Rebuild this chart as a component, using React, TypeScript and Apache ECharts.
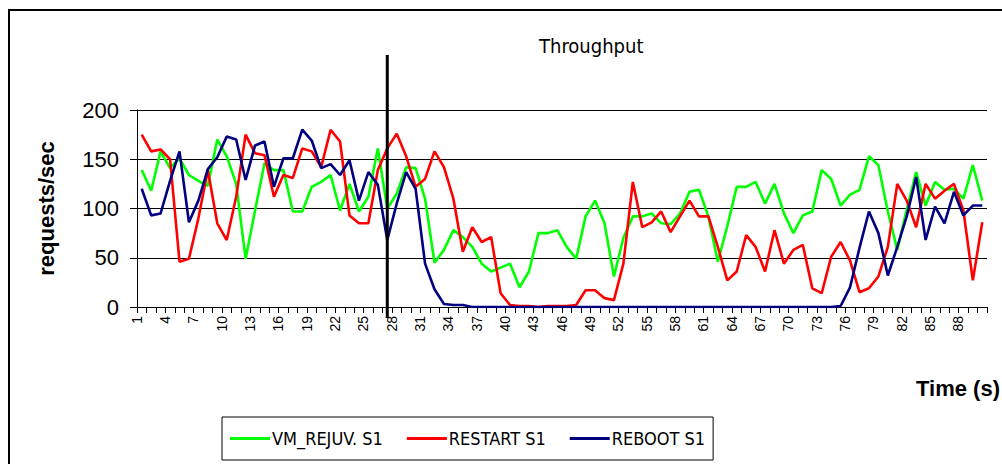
import React, { useEffect, useRef } from "react";
import * as echarts from "echarts";

const timeSeconds: string[] = Array.from({ length: 90 }, (_, i) => String(i + 1));
const yTicks = [0, 50, 100, 150, 200];

const vmRejuv = [
  139, 118, 158, 141, 151, 134, 128, 123, 170, 153,
  125, 49, 98, 146, 139, 139, 97, 97, 122, 127,
  134, 98, 125, 97, 112, 161, 100, 115, 142, 141,
  110, 45, 58, 78, 71, 61, 44, 36, 40, 44,
  20, 36, 75, 75, 78, 61, 49, 92, 108, 85,
  31, 70, 92, 92, 95, 85, 84, 95, 117, 119,
  92, 46, 82, 122, 122, 127, 105, 125, 95, 75,
  93, 97, 139, 130, 103, 114, 119, 153, 144, 97,
  58, 99, 137, 103, 127, 119, 120, 110, 144, 108,
];

const restart = [
  175, 158, 160, 150, 46, 49, 90, 139, 85, 68,
  112, 175, 156, 154, 112, 134, 131, 161, 158, 142,
  180, 168, 93, 85, 85, 139, 161, 176, 153, 122,
  130, 158, 142, 110, 56, 81, 66, 71, 14, 2,
  1, 1, 0, 1, 1, 1, 2, 17, 17, 9,
  7, 44, 127, 81, 86, 97, 76, 92, 108, 92,
  92, 61, 27, 36, 73, 61, 36, 78, 44, 58,
  63, 19, 14, 51, 66, 47, 15, 19, 31, 61,
  125, 108, 81, 125, 110, 118, 125, 98, 27, 86,
];

const reboot = [
  120, 93, 95, 128, 158, 86, 108, 140, 152, 173,
  170, 129, 164, 168, 122, 151, 151, 180, 169, 141,
  145, 134, 149, 108, 137, 124, 68, 105, 137, 120,
  44, 18, 3, 2, 2, 0, 0, 0, 0, 0,
  0, 0, 0, 0, 0, 0, 0, 0, 0, 0,
  0, 0, 0, 0, 0, 0, 0, 0, 0, 0,
  0, 0, 0, 0, 0, 0, 0, 0, 0, 0,
  0, 0, 0, 0, 1, 20, 60, 97, 75, 32,
  61, 92, 132, 68, 102, 85, 117, 93, 103, 103,
];

const seriesNames = ["VM_REJUV. S1", "RESTART S1", "REBOOT S1"];
const seriesColors = ["#00ff00", "#ff0000", "#000080"];
const markerCategory = "27";

const FONT = "'Liberation Sans', Arial, sans-serif";
const NARROW = "'Liberation Sans Narrow', 'Arial Narrow', 'DejaVu Sans Condensed', 'Liberation Sans', sans-serif";

export default function App() {
  const ref = useRef<HTMLDivElement>(null);

  useEffect(() => {
    if (!ref.current) return;
    const chart = echarts.init(ref.current, null, { renderer: "svg" });
    const values = [vmRejuv, restart, reboot];
    const frame = {
      type: "rect",
      shape: { x: 9, y: 10, width: 1300, height: 700 },
      style: { fill: "none", stroke: "#000", lineWidth: 2 },
      silent: true,
    };
    const timeLabel = {
      type: "text",
      right: 2,
      top: 377,
      style: { text: "Time (s)", font: `bold 22px ${FONT}`, fill: "#000" },
    };
    chart.setOption({
      animation: false,
      backgroundColor: "#ffffff",
      title: {
        text: "Throughput",
        left: 534,
        top: 31,
        textStyle: { fontFamily: NARROW, fontSize: 20, fontWeight: "normal", color: "#000" },
      },
      grid: { left: 137, right: 15, top: 110, bottom: 157, containLabel: false },
      legend: {
        data: seriesNames.map((name) => ({ name, icon: "rect" })),
        left: 222,
        top: 417,
        orient: "horizontal",
        itemWidth: 40,
        itemHeight: 3,
        itemGap: 24,
        padding: [12, 8, 12, 8],
        borderColor: "#000",
        borderWidth: 1,
        textStyle: { fontFamily: NARROW, fontSize: 18, lineHeight: 19, color: "#000", padding: [0, 0, 0, -3] },
      },
      xAxis: {
        type: "category",
        data: timeSeconds,
        boundaryGap: true,
        axisLine: { lineStyle: { color: "#000", width: 1 } },
        axisTick: { show: true, interval: 0, length: 6, lineStyle: { color: "#000" } },
        axisLabel: {
          interval: 2,
          rotate: 90,
          margin: 9,
          color: "#000",
          fontFamily: FONT,
          fontSize: 14,
          verticalAlign: "bottom",
          lineHeight: 10,
        },
        splitLine: { show: false },
      },
      yAxis: {
        type: "value",
        min: yTicks[0],
        max: yTicks[yTicks.length - 1],
        interval: 50,
        name: "requests/sec",
        nameLocation: "middle",
        nameRotate: 90,
        nameGap: 80,
        nameTextStyle: { fontFamily: FONT, fontSize: 22, fontWeight: "bold", color: "#000" },
        axisLine: { show: true, lineStyle: { color: "#000", width: 1 } },
        axisTick: { show: true, length: 7, lineStyle: { color: "#000" } },
        axisLabel: { color: "#000", fontFamily: FONT, fontSize: 22, margin: 18 },
        splitLine: { show: true, lineStyle: { color: "#000", width: 1 } },
      },
      series: seriesNames.map((name, i) => ({
        name,
        type: "line",
        data: values[i],
        symbol: "none",
        smooth: false,
        lineStyle: { color: seriesColors[i], width: 2.6 },
        itemStyle: { color: seriesColors[i] },
        z: 3 + i,
      })),
      graphic: [frame, timeLabel],
    });

    const x = chart.convertToPixel({ xAxisIndex: 0 }, markerCategory) as number;
    chart.setOption(
      {
        graphic: [
          frame,
          timeLabel,
          {
            type: "line",
            shape: { x1: x, y1: 55, x2: x, y2: 318 },
            style: { stroke: "#000", lineWidth: 3 },
            z: 10,
          },
        ],
      },
      { replaceMerge: ["graphic"] }
    );

    return () => chart.dispose();
  }, []);

  return (
    <div
      ref={ref}
      style={{ position: "fixed", left: 0, top: 0, width: 1002, height: 464, background: "#fff" }}
    />
  );
}
